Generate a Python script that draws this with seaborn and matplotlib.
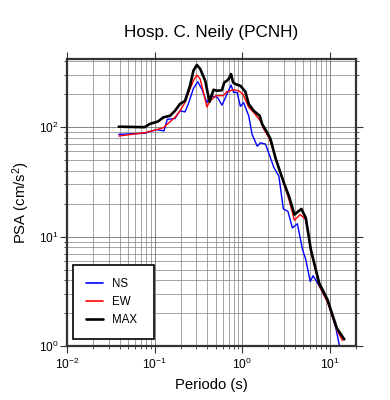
import matplotlib
matplotlib.use("Agg")
import matplotlib.pyplot as plt
import matplotlib.ticker as mticker
from matplotlib.lines import Line2D
import seaborn as sns
import pandas as pd

# ---- data ----
t_ns = [0.039, 0.077, 0.106, 0.128, 0.140, 0.171, 0.195, 0.223, 0.243, 0.278, 0.312,
        0.347, 0.396, 0.44, 0.524, 0.589, 0.66, 0.747, 0.80, 0.876, 0.956, 1.04, 1.19,
        1.30, 1.49, 1.62, 1.85, 2.31, 2.63, 2.96, 3.34, 3.75, 4.28, 4.9, 5.34, 6.0,
        6.47, 7.28, 9.47, 11.8, 12.9]
psa_ns = [86, 88, 95, 92.5, 118, 120, 141, 138, 163, 226, 260,
          223, 168, 194, 187, 159, 194, 243, 208, 208, 155, 168, 127,
          86, 67, 72, 70, 42.7, 35.7, 17.9, 17, 12, 13.1, 7.6, 6.15, 3.89,
          4.39, 3.76, 2.55, 1.45, 1.02]

t_ew = [0.039, 0.077, 0.106, 0.126, 0.150, 0.171, 0.195, 0.223, 0.254, 0.278, 0.304,
        0.332, 0.362, 0.396, 0.432, 0.50, 0.61, 0.672, 0.80, 0.916, 1.02, 1.19, 1.36,
        1.62, 1.77, 2.02, 2.31, 2.5, 3.0, 3.43, 3.96, 4.62, 5.34, 6.1, 7.59, 9.47,
        12.1, 14.0]
psa_ew = [83, 89, 95, 99, 112, 123, 141, 168, 223, 266, 300,
          275, 208, 153, 174, 194, 194, 211, 220, 215, 201, 152, 136,
          114, 96, 80, 60.6, 48, 30.5, 21.8, 14.1, 15.9, 14.3, 7.4, 3.6, 2.5,
          1.4, 1.12]

t_max = [0.039, 0.077, 0.088, 0.110, 0.126, 0.150, 0.171, 0.195, 0.223, 0.254, 0.278,
         0.304, 0.332, 0.379, 0.424, 0.472, 0.516, 0.589, 0.626, 0.672, 0.702, 0.747,
         0.788, 0.838, 0.956, 1.09, 1.19, 1.36, 1.59, 1.70, 1.94, 2.11, 2.41, 3.0,
         3.43, 3.96, 4.76, 5.34, 6.1, 7.59, 9.47, 12.1, 14.7]
psa_max = [101, 100, 107, 113, 123, 127, 141, 163, 174, 239, 329,
           371, 341, 266, 171, 220, 215, 218, 257, 266, 275, 306,
           257, 248, 239, 211, 163, 141, 127, 106, 89, 78, 52, 31,
           23.4, 15.9, 17.9, 14.8, 7.6, 3.76, 2.64, 1.45, 1.15]

series_names = ["NS", "EW", "MAX"]
series_colors = {"NS": "#0000ff", "EW": "#ff0000", "MAX": "#000000"}
series_widths = {"NS": 1.0, "EW": 1.0, "MAX": 1.9}

df = pd.concat([
    pd.DataFrame({"Periodo": t_ns, "PSA": psa_ns, "comp": "NS"}),
    pd.DataFrame({"Periodo": t_ew, "PSA": psa_ew, "comp": "EW"}),
    pd.DataFrame({"Periodo": t_max, "PSA": psa_max, "comp": "MAX"}),
], ignore_index=True)

sns.set_style("ticks")
plt.rcParams["font.family"] = ["Liberation Sans", "DejaVu Sans"]
plt.rcParams["mathtext.fontset"] = "custom"
plt.rcParams["mathtext.rm"] = "Liberation Sans"
plt.rcParams["mathtext.it"] = "Liberation Sans:italic"
plt.rcParams["mathtext.bf"] = "Liberation Sans:bold"
plt.rcParams["text.color"] = "black"
plt.rcParams["axes.labelcolor"] = "black"

fig = plt.figure(figsize=(3.9, 4.0), dpi=100)
ax = fig.add_axes([67 / 390, 54 / 400, 289 / 390, 287 / 400])

for name in series_names:
    sub = df[df["comp"] == name]
    sns.lineplot(data=sub, x="Periodo", y="PSA", color=series_colors[name],
                 estimator=None, sort=False, ax=ax,
                 linewidth=series_widths[name], legend=False)

ax.set_xscale("log")
ax.set_yscale("log")
ax.set_xlim(0.01, 20)
ax.set_ylim(1, 420)

ax.grid(True, which="major", color="0.45", linewidth=0.6)
ax.grid(True, which="minor", color="0.5", linewidth=0.5)
ax.set_axisbelow(True)

ax.xaxis.set_major_locator(mticker.LogLocator(base=10, numticks=10))
ax.yaxis.set_major_locator(mticker.LogLocator(base=10, numticks=10))
ax.xaxis.set_minor_locator(mticker.LogLocator(base=10, subs=range(2, 10), numticks=20))
ax.yaxis.set_minor_locator(mticker.LogLocator(base=10, subs=range(2, 10), numticks=20))
ax.xaxis.set_minor_formatter(mticker.NullFormatter())
ax.yaxis.set_minor_formatter(mticker.NullFormatter())

ax.tick_params(which="major", direction="out", length=5, width=0.8, color="0.2",
               labelcolor="black", labelsize=8.6, pad=3,
               left=True, bottom=True, right=True, top=True)
ax.tick_params(which="minor", direction="out", length=2.5, width=0.6, color="0.2",
               left=True, bottom=True, right=True, top=False)
ax.tick_params(axis="y", which="major", pad=1)
for s in ax.spines.values():
    s.set_linewidth(1.6)
    s.set_color("0.2")

ax.set_xlabel("Periodo (s)", fontsize=10.7, labelpad=4, color="black")
ax.set_ylabel("PSA (cm/s$^2$)", fontsize=10.7, labelpad=5, color="black")
ax.set_title("Hosp. C. Neily (PCNH)", fontsize=12.3, pad=16, color="black")

handles = [Line2D([], [], color=series_colors[n], lw=(1.9 if n == "MAX" else 1.2))
           for n in series_names]
leg = ax.legend(handles, series_names, loc="lower left",
                bbox_to_anchor=(0.021, 0.024, 0.28, 0.258), mode="expand",
                borderaxespad=0, fontsize=8.3, handlelength=1.5, handletextpad=0.75,
                labelspacing=0.55, borderpad=1.1, fancybox=False, framealpha=1,
                edgecolor="black")
leg.get_frame().set_linewidth(1.2)
for txt in leg.get_texts():
    txt.set_color("black")

fig.savefig("out.png", dpi=100)
